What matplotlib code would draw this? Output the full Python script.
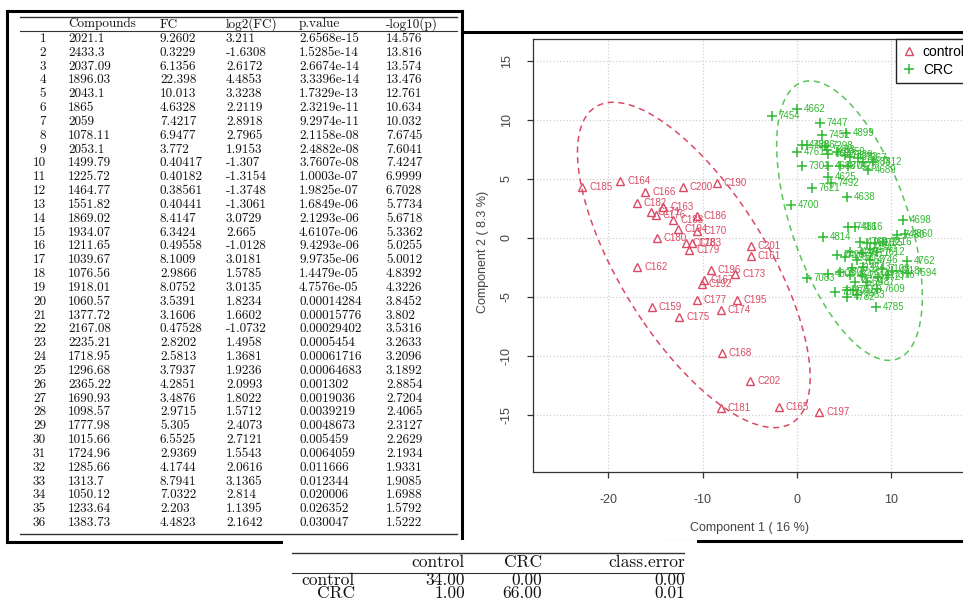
import numpy as np
import matplotlib
matplotlib.use("Agg")
import matplotlib.pyplot as plt
from matplotlib.lines import Line2D
from matplotlib.patches import Rectangle

plt.rcParams["axes.unicode_minus"] = False

# ---- top 36 discriminating compounds ----
compounds = [2021.1, 2433.3, 2037.09, 1896.03, 2043.1, 1865, 2059, 1078.11, 2053.1,
             1499.79, 1225.72, 1464.77, 1551.82, 1869.02, 1934.07, 1211.65, 1039.67,
             1076.56, 1918.01, 1060.57, 1377.72, 2167.08, 2235.21, 1718.95, 1296.68,
             2365.22, 1690.93, 1098.57, 1777.98, 1015.66, 1724.96, 1285.66, 1313.7,
             1050.12, 1233.64, 1383.73]
fc = [9.2602, 0.3229, 6.1356, 22.398, 10.013, 4.6328, 7.4217, 6.9477, 3.772,
      0.40417, 0.40182, 0.38561, 0.40441, 8.4147, 6.3424, 0.49558, 8.1009,
      2.9866, 8.0752, 3.5391, 3.1606, 0.47528, 2.8202, 2.5813, 3.7937,
      4.2851, 3.4876, 2.9715, 5.305, 6.5525, 2.9369, 4.1744, 8.7941,
      7.0322, 2.203, 4.4823]
log2_fc = [3.211, -1.6308, 2.6172, 4.4853, 3.3238, 2.2119, 2.8918, 2.7965, 1.9153,
           -1.307, -1.3154, -1.3748, -1.3061, 3.0729, 2.665, -1.0128, 3.0181,
           1.5785, 3.0135, 1.8234, 1.6602, -1.0732, 1.4958, 1.3681, 1.9236,
           2.0993, 1.8022, 1.5712, 2.4073, 2.7121, 1.5543, 2.0616, 3.1365,
           2.814, 1.1395, 2.1642]
p_value = [2.6568e-15, 1.5285e-14, 2.6674e-14, 3.3396e-14, 1.7329e-13, 2.3219e-11,
           9.2974e-11, 2.1158e-08, 2.4882e-08, 3.7607e-08, 1.0003e-07, 1.9825e-07,
           1.6849e-06, 2.1293e-06, 4.6107e-06, 9.4293e-06, 9.9735e-06, 1.4479e-05,
           4.7576e-05, 0.00014284, 0.00015776, 0.00029402, 0.0005454, 0.00061716,
           0.00064683, 0.001302, 0.0019036, 0.0039219, 0.0048673, 0.005459,
           0.0064059, 0.011666, 0.012344, 0.020006, 0.026352, 0.030047]
neg_log10_p = [14.576, 13.816, 13.574, 13.476, 12.761, 10.634, 10.032, 7.6745, 7.6041,
               7.4247, 6.9999, 6.7028, 5.7734, 5.6718, 5.3362, 5.0255, 5.0012,
               4.8392, 4.3226, 3.8452, 3.802, 3.5316, 3.2633, 3.2096, 3.1892,
               2.8854, 2.7204, 2.4065, 2.3127, 2.2629, 2.1934, 1.9331, 1.9085,
               1.6988, 1.5792, 1.5222]

# ---- PLS-DA sample scores ----
control_ids = ["C185", "C164", "C166", "C200", "C190", "C182", "C163", "C171", "C176",
               "C188", "C186", "C194", "C170", "C180", "C178", "C183", "C179", "C201",
               "C161", "C162", "C196", "C173", "C167", "C192", "C177", "C195", "C159",
               "C175", "C174", "C168", "C202", "C181", "C165", "C197"]
control_c1 = [-22.77, -18.74, -16.09, -12.09, -8.52, -17.00, -14.18, -15.50, -14.95,
              -13.10, -10.64, -12.65, -10.64, -14.88, -11.77, -11.17, -11.45, -4.91,
              -4.91, -16.94, -9.12, -6.57, -9.86, -10.11, -10.64, -6.39, -15.41,
              -12.51, -8.06, -7.99, -4.98, -8.06, -1.91, 2.37]
control_c2 = [4.30, 4.86, 3.90, 4.30, 4.63, 2.94, 2.66, 2.23, 1.95,
              1.52, 1.89, 0.73, 0.62, -0.03, -0.45, -0.45, -1.02, -0.68,
              -1.53, -2.43, -2.71, -3.08, -3.56, -3.93, -5.25, -5.25, -5.82,
              -6.67, -6.10, -9.77, -12.12, -14.38, -14.29, -14.72]

crc_ids = ["4662", "7454", "7447", "7451", "4899", "4728", "4826", "4761", "7298",
           "7483", "4673", "4659", "7339", "4852", "7367", "4683", "7412", "7301",
           "4688", "4704", "7325", "4689", "4625", "7621", "7492", "4638", "4700",
           "4698", "7416", "4816", "4814", "7480", "4860", "4760", "7218", "4735",
           "7216", "4741", "7445", "4771", "7612", "7429", "4792", "7453", "4746",
           "4762", "7335", "4743", "7108", "4718", "7594", "7802", "4803", "7083",
           "4641", "7369", "4727", "7376", "4669", "7487", "7395", "4787", "7558",
           "7609", "4782", "7463", "4785"]
crc_c1 = [-0.03, -2.68, 2.44, 2.62, 5.20, 0.50, 1.03, -0.03, 2.97,
          3.15, 3.32, 4.21, 5.09, 5.62, 6.50, 7.03, 8.09, 0.50,
          3.32, 4.56, 5.44, 7.56, 3.32, 1.56, 3.60, 5.27, -0.67,
          11.27, 5.44, 6.15, 2.79, 10.57, 11.45, 6.68, 7.39, 8.27,
          9.15, 7.74, 5.62, 6.86, 8.45, 4.21, 5.09, 6.33, 7.74,
          11.63, 5.80, 7.03, 8.98, 10.04, 11.81, 4.56, 3.32, 1.03,
          5.62, 6.86, 8.62, 9.51, 6.15, 7.39, 4.03, 5.27, 5.97,
          8.45, 5.27, 6.33, 8.38]
crc_c2 = [10.93, 10.34, 9.77, 8.73, 8.92, 7.88, 7.88, 7.31, 7.80,
          7.46, 7.12, 7.31, 7.03, 6.89, 6.75, 6.47, 6.47, 6.10,
          6.10, 6.10, 6.10, 5.76, 5.14, 4.21, 4.70, 3.50, 2.80,
          1.53, 0.96, 0.91, 0.06, 0.25, 0.31, -0.31, -0.45, -0.45,
          -0.31, -0.96, -1.16, -1.30, -1.16, -1.44, -1.58, -1.86, -1.86,
          -1.92, -2.57, -2.43, -2.65, -2.77, -2.99, -2.85, -3.05, -3.42,
          -3.14, -3.22, -3.28, -3.14, -3.70, -3.70, -4.55, -4.41, -4.41,
          -4.35, -5.03, -4.83, -5.82]

# ---- confusion matrix ----
conf_rows = ["control", "CRC"]
conf_cols = ["control", "CRC", "class.error"]
conf_control = [34, 1]
conf_crc = [0, 66]
conf_error = [0.00, 0.01]

RED = "#DA4A63"
GREEN = "#30B830"
W, H = 963, 614
TABLE_FONT = ["cmr10", "DejaVu Serif"]
PLOT_FONT = ["Liberation Sans", "DejaVu Sans"]


def px_rect(left, top, right, bottom):
    return [left / W, 1 - bottom / H, (right - left) / W, (bottom - top) / H]


def ellipse_95(x, y, n=240):
    pts = np.column_stack([x, y])
    mu = pts.mean(axis=0)
    vals, vecs = np.linalg.eigh(np.cov(pts.T))
    t = np.sqrt(-2 * np.log(0.05))
    th = np.linspace(0, 2 * np.pi, n)
    circ = np.vstack([np.cos(th), np.sin(th)])
    ell = vecs @ (np.sqrt(vals)[:, None] * circ) * t + mu[:, None]
    return ell[0], ell[1]


def main():
    fig = plt.figure(figsize=(W / 100, H / 100), dpi=100)

    # overlay in pixel units for the tables and frames
    ov = fig.add_axes([0, 0, 1, 1])
    ov.set_xlim(0, W)
    ov.set_ylim(H, 0)
    ov.axis("off")

    # frames
    k = dict(color="black", lw=2.2, solid_capstyle="projecting")
    ov.plot([7, 462], [11, 11], **k)
    ov.plot([7, 7], [11, 542], **k)
    ov.plot([7, 320], [542, 542], **k)
    ov.plot([462, 462], [11, 541], **k)
    ov.plot([462, 970], [32, 32], **k)
    ov.plot([660, 970], [541, 541], **k)

    # main table
    tk = dict(fontsize=9.5, family=TABLE_FONT, color="#111111")
    col_x = [68, 160, 226, 299, 386]
    headers = ["Compounds", "FC", "log2(FC)", "p.value", "-log10(p)"]
    ov.plot([20, 457], [16.5, 16.5], color="#333", lw=1.0)
    ov.plot([20, 457], [30.8, 30.8], color="#333", lw=0.8)
    ov.plot([20, 457], [533.5, 533.5], color="#333", lw=1.0)
    for x, h in zip(col_x, headers):
        ov.text(x, 27.5, h, ha="left", va="baseline", **tk)
    row_h = 13.83
    for i in range(len(compounds)):
        yb = 42 + i * row_h
        ov.text(46, yb, str(i + 1), ha="right", va="baseline", **tk)
        vals = ["%g" % compounds[i], str(fc[i]), str(log2_fc[i]),
                str(p_value[i]), str(neg_log10_p[i])]
        for x, v in zip(col_x, vals):
            ov.text(x, yb, v, ha="left", va="baseline", **tk)

    # confusion matrix table (sits over the frame corners)
    ov.add_patch(Rectangle((283, 539.5), 414, 80, facecolor="white",
                           edgecolor="none", zorder=5))
    ck = dict(fontsize=12.5, family=TABLE_FONT, color="#111111", zorder=6)
    ov.plot([292, 684], [553, 553], color="#333", lw=1.0, zorder=6)
    ov.plot([292, 684], [572.5, 572.5], color="#333", lw=0.8, zorder=6)
    cx = [465, 542, 685]
    for x, h in zip(cx, conf_cols):
        ov.text(x, 567, h, ha="right", va="baseline", **ck)
    for j, name in enumerate(conf_rows):
        yb = 585 + j * 13
        ov.text(355, yb, name, ha="right", va="baseline", **ck)
        row = ["%.2f" % conf_control[j], "%.2f" % conf_crc[j], "%.2f" % conf_error[j]]
        for x, v in zip(cx, row):
            ov.text(x, yb, v, ha="right", va="baseline", **ck)

    # score plot
    ax = fig.add_axes(px_rect(533, 39, 971, 472))
    ax.set_xlim(-28.0, 18.45)
    ax.set_ylim(-19.83, 16.86)
    ax.set_xticks([-20, -10, 0, 10])
    ax.set_yticks([-15, -10, -5, 0, 5, 10, 15])
    ax.grid(True, color="#d0d0d0", linestyle=":", lw=0.9)
    ax.set_axisbelow(True)
    for s in ax.spines.values():
        s.set_color("#333333")
        s.set_linewidth(0.9)
    ax.tick_params(axis="both", length=4.5, width=0.9, color="#333333",
                   labelsize=9, labelcolor="#444444")
    ax.tick_params(axis="x", pad=11)
    ax.tick_params(axis="y", pad=10, labelrotation=90)
    for lab in ax.get_yticklabels():
        lab.set_va("center")
    for lab in ax.get_xticklabels() + ax.get_yticklabels():
        lab.set_family(PLOT_FONT)

    ex, ey = ellipse_95(control_c1, control_c2)
    ax.plot(ex, ey, color=RED, lw=1.1, ls=(0, (4, 3)))
    ex, ey = ellipse_95(crc_c1, crc_c2)
    ax.plot(ex, ey, color=GREEN, lw=1.1, ls=(0, (4, 3)), alpha=0.8)

    ax.plot(control_c1, control_c2, ls="none", marker="^", ms=5.5,
            mfc="none", mec=RED, mew=1.0)
    ax.plot(crc_c1, crc_c2, ls="none", marker="+", ms=7, mec=GREEN, mew=1.1)
    for name, x, y in zip(control_ids, control_c1, control_c2):
        ax.annotate(name, (x, y), xytext=(5, 0), textcoords="offset points",
                    ha="left", va="center", fontsize=7, color=RED, family=PLOT_FONT)
    for name, x, y in zip(crc_ids, crc_c1, crc_c2):
        ax.annotate(name, (x, y), xytext=(5, 0), textcoords="offset points",
                    ha="left", va="center", fontsize=7, color=GREEN, family=PLOT_FONT)

    ax.set_xlabel("Component 1 ( 16 %)", fontsize=9, color="#444444", family=PLOT_FONT)
    ax.set_ylabel("Component 2 ( 8.3 %)", fontsize=9, color="#444444", family=PLOT_FONT)
    ax.xaxis.set_label_coords(0.495, -0.115)
    ax.yaxis.set_label_coords(-0.10, 0.508)

    handles = [Line2D([], [], ls="none", marker="^", ms=5.5, mfc="none", mec=RED, mew=1.0),
               Line2D([], [], ls="none", marker="+", ms=7, mec=GREEN, mew=1.1)]
    leg = ax.legend(handles, ["control", "CRC"], loc="upper right",
                    bbox_to_anchor=(1.0, 1.0), borderaxespad=0, fancybox=False,
                    edgecolor="#222222", framealpha=1, handlelength=1.0,
                    handletextpad=0.5, borderpad=0.45, labelspacing=0.25,
                    prop={"family": PLOT_FONT, "size": 10})
    leg.get_frame().set_linewidth(1.0)

    fig.savefig("out.png", dpi=100)
    plt.close(fig)


if __name__ == "__main__":
    main()
